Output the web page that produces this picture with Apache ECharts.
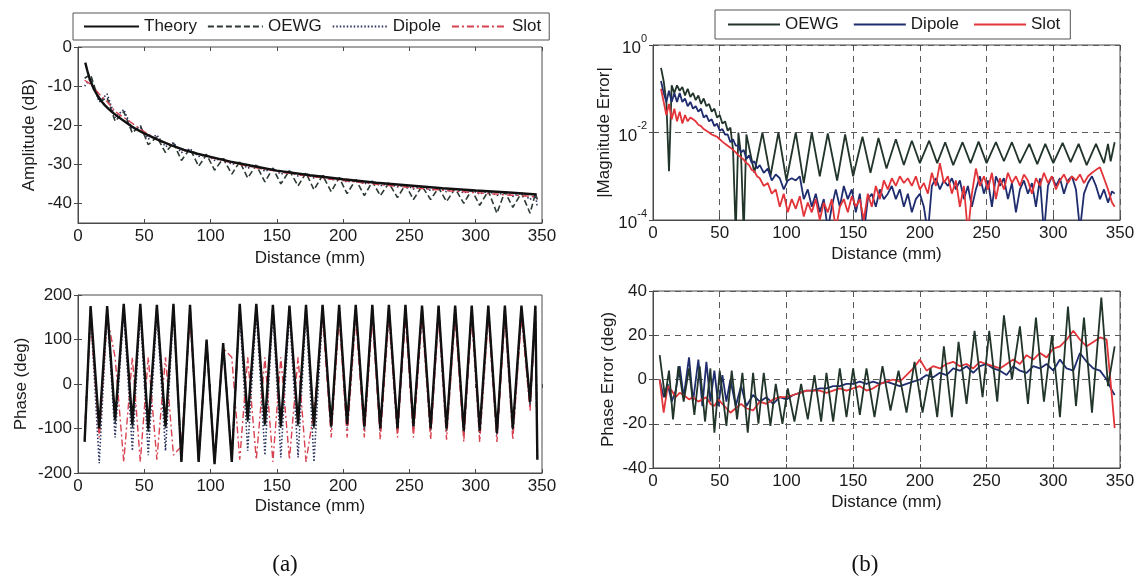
<!DOCTYPE html>
<html><head><meta charset="utf-8">
<script src="https://cdn.jsdelivr.net/npm/echarts@6/dist/echarts.min.js"></script>
<style>html,body{margin:0;padding:0;background:#fff}#c{width:1140px;height:580px}</style>
</head><body><div id="c"></div>
<script>
// ---------------- data ----------------
const AMP_TH_X = [5.5, 7, 8.5, 10, 12, 14, 16, 18, 20, 23, 26, 30, 35, 40, 45, 50, 60, 70, 80, 90, 100, 115, 130, 150, 175, 200, 225, 250, 275, 300, 325, 346];
const AMP_THEORY = [-4, -6, -7.8, -9.2, -10.8, -12, -13, -14, -14.8, -15.8, -16.7, -17.8, -19, -20.2, -21.2, -22.1, -23.7, -25.1, -26.3, -27.3, -28.1, -29.3, -30.3, -31.6, -32.8, -33.8, -34.7, -35.4, -36.1, -36.7, -37.2, -37.7];

const ZZ_X = [5, 9.5, 16, 22, 28, 34.5, 41, 47, 53, 59.5, 66, 72, 78, 84.5, 91, 97, 103, 109.5, 116, 122, 128, 134.5, 141, 147, 153, 159.5, 166, 172, 178, 184.5, 191, 197, 203, 209.5, 216, 222, 228, 234.5, 241, 247, 253, 259.5, 266, 272, 278, 284.5, 291, 297, 303, 309.5, 316, 322, 328, 334.5, 341, 345, 346.5];
const AMP_OEWG = [-8, -7, -14, -13, -19, -16.5, -22, -20, -25, -23, -27, -24.5, -29, -26, -30.5, -27.5, -31.5, -28.5, -32.5, -29.3, -33.5, -30.2, -34.5, -31, -35, -31.6, -35.5, -32.2, -36.5, -32.8, -37, -33.4, -37.5, -33.9, -38, -34.4, -38, -34.8, -38.5, -35.2, -39, -35.6, -39, -36, -39.5, -36.2, -40, -36.5, -40.5, -36.8, -42.5, -37, -41, -37.3, -42.5, -37.5, -39];
const AMP_DIPOLE = [-10, -8, -14, -12, -18, -16, -21, -20.5, -23.5, -22.5, -25.5, -24.5, -27, -26, -28, -27.5, -29, -28.5, -30, -29.5, -31, -30.2, -31.8, -31, -32.5, -31.7, -33, -32.3, -33.5, -32.8, -34, -33.5, -34.5, -34, -35, -34.3, -35.5, -34.8, -35.8, -35.2, -36.3, -35.6, -36.7, -36, -37, -36.3, -37.3, -36.6, -37.6, -36.8, -38, -37, -38.2, -37.3, -39, -37.6, -41];
const AMP_SLOT = [-8.5, -9.5, -12, -14, -16.5, -18, -19.5, -21, -22.3, -23.5, -24.5, -25.3, -26.2, -26.8, -27.4, -28, -28.5, -29, -29.6, -30, -30.5, -30.9, -31.3, -31.6, -32, -32.3, -32.6, -33, -33.2, -33.5, -33.8, -34, -34.3, -34.5, -34.8, -35, -35.2, -35.4, -35.6, -35.8, -36, -36.2, -36.4, -36.5, -36.7, -36.9, -37, -37.2, -37.3, -37.5, -37.6, -37.8, -37.9, -38, -38.2, -38.3, -38.5];

const PH_THEORY = [-130, 175, -100, 175, -80, 180, -90, 180, -100, 178, -95, 180, -175, 178, -175, 100, -180, 92, -175, 180, -80, 180, -90, 178, -95, 176, -90, 178, -95, 178, -95, 178, -90, 178, -95, 178, -100, 178, -100, 178, -95, 176, -100, 176, -100, 176, -105, 176, -105, 176, -110, 176, -100, 176, -40, 176, -170];
const PH_OEWG = [-120, 170, -110, 172, -90, 176, -100, 176, -110, 175, -100, 176, -170, 176, -172, 95, -175, 88, -170, 176, -85, 176, -95, 175, -100, 174, -95, 175, -100, 175, -98, 175, -95, 175, -98, 175, -105, 175, -105, 175, -100, 174, -105, 174, -105, 174, -110, 174, -110, 174, -115, 174, -105, 174, -45, 174, -165];
const PH_DIPOLE = [-125, 160, -178, 165, -120, 165, -150, 165, -160, 160, -150, 165, -170, 165, -172, 90, -175, 85, -165, 165, -150, 165, -160, 165, -165, 162, -165, 165, -175, 165, -100, 165, -100, 165, -105, 165, -105, 165, -105, 165, -100, 165, -105, 165, -105, 165, -110, 165, -110, 165, -115, 165, -105, 165, -50, 165, -168];
const PH_SLOT = [-110, 150, -120, 150, 60, -175, 60, -175, 60, -170, 60, -160, -140, 150, -165, 95, -170, 80, 60, -170, 60, -170, 60, -175, 60, -170, 60, -175, -60, 150, -120, 150, -120, 150, -120, 150, -125, 150, -120, 150, -120, 150, -125, 150, -125, 150, -130, 150, -130, 150, -130, 150, -125, 150, -60, 150, -160];

const MAG_OEWG_X = [6, 8, 10, 12, 14, 16, 18, 20, 22, 24, 26, 28, 30, 32, 34, 36, 38, 40, 42, 44, 46, 48, 50, 52, 54, 56, 58, 60, 62, 64, 66, 68, 70, 76, 82, 88, 94, 100, 107, 113, 119, 125, 131, 138, 144, 150, 157, 163, 169, 175, 182, 188, 194, 200, 207, 213, 219, 225, 232, 238, 244, 250, 257, 263, 269, 275, 282, 288, 294, 300, 307, 313, 319, 325, 332, 338, 341, 343, 346];
const MAG_OEWG = [0.3, 0.15, 0.05, 1.3e-3, 0.12, 0.08, 0.12, 0.09, 0.11, 0.07, 0.1, 0.065, 0.08, 0.055, 0.07, 0.045, 0.06, 0.04, 0.045, 0.03, 0.035, 0.022, 0.025, 0.016, 0.018, 0.011, 0.013, 4e-3, 5e-5, 0.01, 3e-3, 5e-5, 9e-3,
  1.2e-3, 0.01, 1e-3, 0.01, 8e-4,
  0.01, 7e-4, 0.01, 1e-3, 9.5e-3, 8e-4, 9e-3, 1e-3,
  8e-3, 1.2e-3, 7.5e-3, 1.5e-3, 7e-3, 1.8e-3, 6.5e-3, 2e-3,
  6.5e-3, 2e-3, 6e-3, 1.8e-3, 6e-3, 2e-3, 6.2e-3, 2e-3,
  6e-3, 2.2e-3, 6e-3, 2e-3, 5.5e-3, 1.9e-3, 5.5e-3, 2e-3,
  5.8e-3, 2.1e-3, 5.5e-3, 1.8e-3, 5.5e-3, 2e-3,
  5.5e-3, 2.2e-3, 6e-3];
const MAG_X = [6, 8, 10, 12, 14, 16, 18, 20, 22, 24, 26, 28, 30, 32, 34, 36, 38, 40, 42, 44, 46, 48, 50, 52, 54, 56, 58, 60, 62, 64, 66, 68, 70, 72, 74, 76, 78, 80,
  83, 86, 89, 92, 95, 98, 101, 104, 107, 110, 113, 116, 119, 122, 125, 128, 131, 134, 137, 140, 143, 146, 149, 152, 155, 158, 161, 164, 167, 170, 173, 176, 179, 182, 185, 188, 191, 194, 197, 200, 203, 206, 209, 212, 215, 218, 221, 224, 227, 230, 233, 236, 239, 242, 245, 248, 251, 254, 257, 260, 263, 266, 269, 272, 275, 278, 281, 284, 287, 290, 293, 296, 299, 302, 305, 308, 311, 314, 317, 320, 323, 326, 329, 332, 335, 338, 341, 344, 346];
const MAG_DIPOLE = [0.15, 0.08, 0.05, 0.09, 0.05, 0.08, 0.05, 0.08, 0.05, 0.06, 0.04, 0.05, 0.035, 0.04, 0.03, 0.035, 0.022, 0.025, 0.018, 0.02, 0.014, 0.016, 0.011, 0.012, 0.009, 0.009, 0.006, 0.007, 0.005, 0.005, 0.0035, 0.004, 0.0025, 0.003, 0.002, 0.0022, 0.0015, 0.0018,
  1.2e-3, 1.5e-3, 8e-4, 1.1e-3, 9e-4, 5e-4, 8e-4, 9e-4, 8e-4, 1e-3, 3e-4, 5e-4, 2e-4, 4e-4, 1.5e-4, 3e-4, 6e-5, 2e-4, 5e-4, 2e-4, 6e-4, 3e-4, 5e-4, 1.5e-4, 4e-4, 5e-5, 3e-4, 4e-4, 2e-4, 5e-4, 3e-4, 4e-4, 6e-4, 3e-4, 5e-4, 2e-4, 4e-4, 1.5e-4, 3e-4, 4e-4, 2e-4, 5e-5, 6e-4, 9e-4, 5e-4, 8e-4, 6e-4, 9e-4, 5e-4, 8e-4, 3e-4, 6e-4, 2e-4, 5e-4, 1e-3, 4e-4, 8e-4, 2e-4, 1e-3, 6e-4, 9e-4, 3e-4, 7e-4, 1.5e-4, 5e-4, 8e-4, 4e-4, 7e-4, 2e-4, 9e-4, 5e-5, 6e-4, 1e-3, 6e-4, 9e-4, 4e-4, 8e-4, 1e-3, 5e-4, 6e-5, 4e-4, 7e-4, 1e-3, 6e-4, 3e-4, 5e-4, 2.5e-4, 4.5e-4, 4e-4];
const MAG_SLOT = [0.1, 0.05, 0.025, 0.045, 0.02, 0.035, 0.018, 0.03, 0.016, 0.025, 0.018, 0.022, 0.02, 0.018, 0.015, 0.014, 0.012, 0.011, 0.01, 0.009, 0.0085, 0.008, 0.007, 0.0062, 0.0055, 0.005, 0.0045, 0.004, 0.0035, 0.003, 0.0027, 0.0024, 0.002, 0.0018, 0.0014, 0.0013, 0.001, 0.0009,
  6e-4, 7e-4, 4e-4, 5e-4, 2e-4, 4e-4, 1.5e-4, 3e-4, 1.8e-4, 3.5e-4, 1.2e-4, 2.5e-4, 1.5e-4, 3e-4, 1e-4, 2.5e-4, 1.5e-4, 3e-4, 6e-5, 2e-4, 3e-4, 1.5e-4, 3.5e-4, 2e-4, 3e-4, 1e-4, 4e-4, 2e-4, 6e-4, 3e-4, 8e-4, 5e-4, 9e-4, 6e-4, 1e-3, 7e-4, 9e-4, 6e-4, 1e-3, 5e-4, 7e-4, 4e-4, 1.2e-3, 6e-4, 2e-3, 7e-4, 1e-3, 4e-4, 8e-4, 2e-4, 6e-4, 5e-5, 4e-4, 1.5e-3, 6e-4, 1e-3, 5e-4, 1.2e-3, 3e-4, 9e-4, 5e-4, 1.2e-3, 7e-4, 1e-3, 6e-4, 1.1e-3, 8e-4, 4e-4, 9e-4, 6e-4, 1.2e-3, 7e-4, 1e-3, 5e-4, 8e-4, 1.1e-3, 7e-4, 1e-3, 8e-4, 1.1e-3, 7e-4, 1e-3, 1.2e-3, 1.4e-3, 1.6e-3, 9e-4, 5e-4, 2.5e-4, 2e-4];

const PE_OEWG_X = [5, 9, 12, 15, 19, 23, 27, 31, 35, 39, 43, 46, 50, 55, 59, 63, 67, 71, 75, 79, 83, 88, 92, 97, 101, 106, 111, 116, 121, 126, 130, 135, 140, 145, 150, 155, 160, 166, 172, 178, 184, 190, 196, 202, 208, 213, 218, 224, 229, 235, 241, 247, 252, 258, 263, 269, 275, 281, 287, 293, 299, 305, 311, 317, 323, 329, 336, 341, 346];
const PE_OEWG = [11, -8, 4, -18, 6, -10, 5, -16, 6, -19, 5, -24, 4, -21, 4, -18, 3, -24, 3, -20, 3, -21, -2, -20, -4, -19, -2, -18, 2, -19, 3, -19, 5, -17, 5, -16, 5, -17, 6, -14, 4, -15, 8, -15, 5, -17, 15, -17, 17, -11, 22, -8, 22, -10, 29, 0, 24, -11, 28, -10, 20, -17, 33, -12, 28, -15, 37, -3, 15];
const PE_X = [5, 8, 11, 14, 17, 20, 23, 27, 30, 34, 37, 40, 43, 46, 49, 52, 55, 58, 62, 66, 70, 75, 80, 85, 90, 95, 100, 105, 110, 115, 120, 125, 130, 135, 140, 145, 150, 155, 160, 165, 170, 175, 180, 185, 190, 195, 200, 205, 210, 215, 220, 225, 230, 235, 240, 245, 250, 255, 260, 265, 270, 275, 280, 285, 290, 295, 300, 305, 310, 315, 320, 325, 330, 335, 340, 344, 346];
const PE_DIPOLE = [0, -8, -2, -10, -5, 6, -8, 10, -10, 9, -12, 8, -10, 4, -12, 2, -10, 0, -12, -3, -12,
  -7, -10, -8, -11, -8, -9, -7, -6, -5, -5, -4, -4, -3, -3, -2, -2, -1, -2, -1, -2, -1, -2, -3, -2, -1, 0, 2, 1, 3, 2, 5, 4, 6, 3, 6, 7, 5, 4, 2, 6, 4, 3, 6, 5, 7, 4, 9, 5, 4, 12, 8, 5, 4, 0,
  -5, -7];
const PE_SLOT = [0, -15, -3, -5, -8, -6, -7, -9, -8, -10, -9, -8, -11, -12, -9, -11, -13, -15, -13, -11, -13,
  -14, -10, -11, -9, -8, -8, -7, -6, -5, -5, -5, -6, -5, -4, -5, -4, -3, -5, -4, -2, -1, 0, -1, 2, 5, 9, 4, 6, 5, 7, 8, 6, 7, 5, 8, 7, 6, 5, 7, 9, 7, 11, 9, 12, 10, 14, 15, 18, 22, 18, 15, 17, 19, 18,
  -8, -22];

const X_TICKS_MAX = 350;
const AMP_TICKS = [-40, -30, -20, -10, 0];
const MAG_TICKS = [1e-4, 1e-2, 1];

// ---------------- chart ----------------
const FONT = '"Liberation Sans", Arial, Helvetica, sans-serif';
const INK = '#1b1b1b', FRAME = '#4a4a4a';
const C_OEWG = '#22352a', C_DIP = '#1f2d6e', C_SLOT = '#e3343a';

function pairs(xs, ys) { return xs.map((x, i) => [x, ys[i]]); }

const GRIDS = [
  {left: 78, top: 47, width: 464, height: 176},
  {left: 78, top: 295, width: 464, height: 178},
  {left: 653, top: 45, width: 467, height: 175},
  {left: 653, top: 291, width: 467, height: 177}
];
const grid = GRIDS.map(g => Object.assign({show: true, borderColor: FRAME, borderWidth: 1, containLabel: false, outerBoundsMode: 'none'}, g));

const dash = {show: true, lineStyle: {color: '#5a5a5a', type: [6, 5], width: 1}};
const tick = {show: true, inside: true, length: 4, lineStyle: {color: FRAME}};
const lbl = {fontFamily: FONT, fontSize: 17, color: INK};

function mainX(gi, grids, gap) {
  return {gridIndex: gi, type: 'value', min: 0, max: X_TICKS_MAX, interval: 50,
    name: 'Distance (mm)', nameLocation: 'middle', nameGap: gap, nameTextStyle: lbl,
    axisLine: {show: true, onZero: false, lineStyle: {color: FRAME}},
    axisTick: tick, axisLabel: Object.assign({margin: 5}, lbl),
    splitLine: grids ? dash : {show: false}};
}
function topX(gi) {
  return {gridIndex: gi, type: 'value', position: 'top', min: 0, max: X_TICKS_MAX, interval: 50,
    axisLine: {show: false}, axisTick: tick, axisLabel: {show: false}, splitLine: {show: false}};
}
function yBase(gi, name, gap) {
  return {gridIndex: gi, type: 'value', name, nameLocation: 'middle', nameGap: gap, nameRotate: 90,
    nameTextStyle: lbl, axisLine: {show: true, onZero: false, lineStyle: {color: FRAME}},
    axisTick: tick, axisLabel: Object.assign({margin: 6}, lbl), splitLine: {show: false}};
}

const yAmp = Object.assign(yBase(0, 'Amplitude (dB)', 40), {min: -45, max: 0});
yAmp.axisLabel.customValues = AMP_TICKS; yAmp.axisTick = Object.assign({customValues: AMP_TICKS}, tick);
const yPh = Object.assign(yBase(1, 'Phase (deg)', 48), {min: -200, max: 200, interval: 100});
const yMag = Object.assign(yBase(2, '|Magnitude Error|', 40), {type: 'log', logBase: 10, min: 1e-4, max: 1});
yMag.axisLabel = {margin: 6, customValues: MAG_TICKS,
  formatter: v => '{b|10}{s|' + Math.round(Math.log10(v)) + '}',
  rich: {b: {fontFamily: FONT, fontSize: 17, color: INK, verticalAlign: 'bottom', lineHeight: 24},
         s: {fontFamily: FONT, fontSize: 11, color: INK, verticalAlign: 'top', lineHeight: 12}}};
yMag.axisTick = Object.assign({customValues: MAG_TICKS}, tick);
yMag.splitLine = Object.assign({}, dash);
const yPe = Object.assign(yBase(3, 'Phase Error (deg)', 36), {min: -40, max: 40, interval: 20, splitLine: dash});

function rightY(gi, extra) {
  return Object.assign({gridIndex: gi, type: 'value', position: 'right', axisLine: {show: false},
    axisTick: tick, axisLabel: {show: false}, splitLine: {show: false}}, extra);
}

const xAxis = [mainX(0, false, 27), mainX(1, false, 25), mainX(2, true, 26), mainX(3, true, 26),
  topX(0), topX(1), topX(2), topX(3)];
const yAxis = [yAmp, yPh, yMag, yPe,
  rightY(0, {min: -45, max: 0, axisTick: Object.assign({customValues: AMP_TICKS}, tick)}),
  rightY(1, {min: -200, max: 200, interval: 100}),
  rightY(2, {type: 'log', logBase: 10, min: 1e-4, max: 1, axisTick: Object.assign({customValues: MAG_TICKS}, tick)}),
  rightY(3, {min: -40, max: 40, interval: 20})];

function ln(name, gi, data, color, width, type, z) {
  return {name, type: 'line', xAxisIndex: gi, yAxisIndex: gi, data, symbol: 'none', legendIcon: 'none', clip: true,
    lineStyle: {color, width, type: type || 'solid'}, itemStyle: {color}, z: z || 2,
    emphasis: {disabled: true}, animation: false};
}
const DASH = [6, 3], DOT = [1.5, 2], DASHDOT = [7, 3, 2, 3];

const series = [
  ln('OEWG', 0, pairs(ZZ_X, AMP_OEWG), '#2d3a32', 1.6, DASH),
  ln('Dipole', 0, pairs(ZZ_X, AMP_DIPOLE), '#2a3360', 1.6, DOT),
  ln('Slot', 0, pairs(ZZ_X, AMP_SLOT), '#d8414f', 1.4, DASHDOT),
  ln('Theory', 0, pairs(AMP_TH_X, AMP_THEORY), '#111111', 2.4, 'solid', 3),

  ln('OEWG', 1, pairs(ZZ_X, PH_OEWG), '#2d3a32', 1.6, DASH),
  ln('Dipole', 1, pairs(ZZ_X, PH_DIPOLE), '#2a3360', 1.6, DOT),
  ln('Slot', 1, pairs(ZZ_X, PH_SLOT), '#d8414f', 1.4, DASHDOT),
  ln('Theory', 1, pairs(ZZ_X, PH_THEORY), '#111111', 2.4, 'solid', 3),

  ln('OEWG ', 2, pairs(MAG_OEWG_X, MAG_OEWG), C_OEWG, 1.8),
  ln('Dipole ', 2, pairs(MAG_X, MAG_DIPOLE), C_DIP, 1.8),
  ln('Slot ', 2, pairs(MAG_X, MAG_SLOT), C_SLOT, 1.8),

  ln('Dipole ', 3, pairs(PE_X, PE_DIPOLE), C_DIP, 1.8),
  ln('Slot ', 3, pairs(PE_X, PE_SLOT), C_SLOT, 1.8),
  ln('OEWG ', 3, pairs(PE_OEWG_X, PE_OEWG), C_OEWG, 1.8)
];

const legBase = {orient: 'horizontal', itemHeight: 14, selectedMode: false,
  borderColor: '#555', borderWidth: 1, backgroundColor: '#fff', borderRadius: 0,
  itemStyle: {opacity: 0, borderWidth: 0},
  textStyle: {fontFamily: FONT, fontSize: 17, color: INK}};
const legend = [
  Object.assign({}, legBase, {data: ['Theory', 'OEWG', 'Dipole', 'Slot'], left: 73, top: 13,
    itemWidth: 55, itemGap: 10, padding: [5, 8, 5, 10]}),
  Object.assign({}, legBase, {data: ['OEWG ', 'Dipole ', 'Slot '], left: 715, top: 10,
    itemWidth: 52, itemGap: 14, padding: [6, 10, 6, 12], formatter: n => n.trim()})
];

const graphic = [
  {type: 'text', x: 285, y: 565, style: {text: '(a)', fontFamily: '"Liberation Serif", "Times New Roman", serif', fontSize: 23, fill: '#111', align: 'center', verticalAlign: 'middle'}},
  {type: 'text', x: 865, y: 565, style: {text: '(b)', fontFamily: '"Liberation Serif", "Times New Roman", serif', fontSize: 23, fill: '#111', align: 'center', verticalAlign: 'middle'}}
];

const chart = echarts.init(document.getElementById('c'), null, {renderer: 'canvas'});
chart.setOption({animation: false, backgroundColor: '#fff', grid, xAxis, yAxis, series, legend, graphic});
</script></body></html>
